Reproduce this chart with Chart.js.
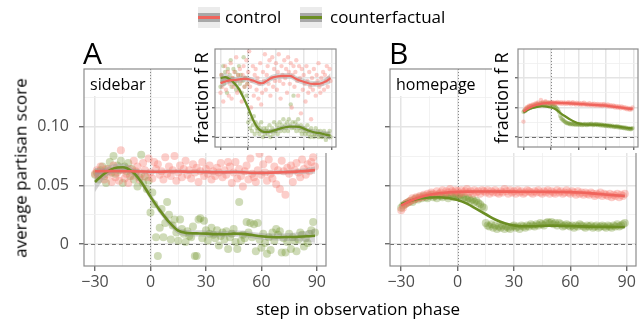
<!DOCTYPE html>
<html>
<head>
<meta charset="utf-8">
<script src="https://cdn.jsdelivr.net/npm/chart.js@4.4.0/dist/chart.umd.min.js"></script>
<style>
  body { margin: 0; width: 642px; height: 322px; position: relative; background: #fff; overflow: hidden;
         font-family: 'Open Sans', sans-serif; color: #000; }
  canvas, .abs { position: absolute; }
  .main { z-index: 1; }
  .strip { z-index: 2; background: #fff; }
  .inset { z-index: 3; background: #fff; }
  .txt { white-space: nowrap; z-index: 4; }
  .key { width: 22px; height: 21px; background: #ebebeb; z-index: 4; }
  .key .band { position: absolute; left: 0; right: 0; top: 6px; height: 9px; background: #a8a8a8; }
  .key .line { position: absolute; left: 0; right: 0; top: 9px; height: 3px; }
</style>
</head>
<body>

<!-- legend -->
<div class="abs key" style="left:198px;top:7px"><div class="band"></div><div class="line" style="background:#f0645c"></div></div>
<div class="abs txt" style="left:225px;top:8px;font-size:17px;line-height:17px">control</div>
<div class="abs key" style="left:300px;top:7px"><div class="band"></div><div class="line" style="background:#6b8e23"></div></div>
<div class="abs txt" style="left:330px;top:8px;font-size:17px;line-height:17px">counterfactual</div>

<!-- panel letters -->
<div class="abs txt" style="left:83px;top:38px;font-size:30px;line-height:30px">A</div>
<div class="abs txt" style="left:389px;top:38px;font-size:30px;line-height:30px">B</div>

<!-- axis titles -->
<div class="abs txt" style="left:20px;top:168px;font-size:17px;line-height:17px;transform:translate(-50%,-50%) rotate(-90deg)">average partisan score</div>
<div class="abs txt" style="left:358px;top:300px;font-size:17px;line-height:17px;transform:translateX(-50%)">step in observation phase</div>

<canvas id="mainA" class="main" width="330" height="262" style="left:0;top:60px"></canvas>
<canvas id="mainB" class="main" width="312" height="262" style="left:330px;top:60px"></canvas>

<div class="abs strip" style="left:85px;top:70px;width:64px;height:26px"></div>
<div class="abs txt" style="left:90px;top:76px;font-size:16px;line-height:16px">sidebar</div>
<div class="abs strip" style="left:391px;top:70px;width:64px;height:26px"></div>
<div class="abs txt" style="left:396px;top:76px;font-size:16px;line-height:16px">homepage</div>

<canvas id="insetA" class="inset" width="148" height="111" style="left:192px;top:42px"></canvas>
<canvas id="insetB" class="inset" width="150" height="111" style="left:492px;top:42px"></canvas>

<script>
// observation steps of the scatter points
const steps = [
  -30,-29,-28,-27,-26,-25,-24,-23,-22,-21,
  -20,-19,-18,-17,-16,-15,-14,-13,-12,-11,
  -10,-9,-8,-7,-6,-5,-4,-3,-2,-1,
  0,1,2,3,4,5,6,7,8,9,
  10,11,12,13,14,15,16,17,18,19,
  20,21,22,23,24,25,26,27,28,29,
  30,31,32,33,34,35,36,37,38,39,
  40,41,42,43,44,45,46,47,48,49,
  50,51,52,53,54,55,56,57,58,59,
  60,61,62,63,64,65,66,67,68,69,
  70,71,72,73,74,75,76,77,78,79,
  80,81,82,83,84,85,86,87,88,89
];
// steps where the smoothed fits are given
const fitSteps = [-30,-25,-20,-15,-10,-5,0,5,10,15,20,25,30,35,40,45,50,55,60,65,70,75,80,85,89];

// ---- panel A: sidebar ----
const controlA = [
  0.060,0.063,0.058,0.066,0.061,0.055,0.064,0.059,0.062,0.053,
  0.067,0.057,0.061,0.054,0.080,0.063,0.056,0.060,0.052,0.064,
  0.058,0.071,0.062,0.066,0.055,0.060,0.069,0.063,0.057,0.073,
  0.061,0.056,0.070,0.064,0.068,0.059,0.062,0.055,0.074,0.060,
  0.066,0.058,0.063,0.075,0.054,0.061,0.067,0.057,0.064,0.071,
  0.059,0.063,0.056,0.068,0.061,0.065,0.053,0.062,0.070,0.058,
  0.064,0.060,0.067,0.055,0.062,0.058,0.065,0.061,0.069,0.057,
  0.063,0.059,0.070,0.066,0.052,0.061,0.070,0.056,0.064,0.058,
  0.049,0.062,0.067,0.055,0.073,0.060,0.057,0.053,0.063,0.077,
  0.059,0.068,0.061,0.054,0.072,0.060,0.056,0.066,0.051,0.063,
  0.047,0.071,0.062,0.042,0.065,0.060,0.067,0.053,0.063,0.069,
  0.061,0.057,0.072,0.064,0.059,0.068,0.062,0.070,0.074,0.066
];
const counterA = [
  0.059,0.061,0.055,0.063,0.066,0.058,0.052,0.064,0.070,0.061,
  0.075,0.060,0.067,0.063,0.071,0.052,0.066,0.062,0.069,0.058,
  0.064,0.055,0.061,0.049,0.057,0.076,0.052,0.058,0.047,0.054,
  0.027,0.044,0.034,0.006,-0.010,0.014,0.030,0.006,0.018,0.036,
  0.025,0.004,0.016,0.021,0.010,0.003,0.021,0.013,0.009,0.002,
  0.011,0.007,0.006,0.015,-0.010,-0.010,0.021,0.022,0.005,0.020,
  0.012,0.003,0.009,0.014,0.008,0.005,0.012,-0.001,0.007,0.010,
  0.004,0.011,-0.004,0.006,0.009,0.013,0.002,-0.004,0.036,0.003,
  0.008,0.005,0.019,0.010,0.018,0.006,0.017,-0.006,0.018,0.004,
  -0.003,0.009,0.001,-0.008,0.006,-0.005,0.010,0.003,0.013,0.008,
  0.011,-0.007,0.005,-0.007,0.002,0.009,-0.004,0.006,0.003,-0.006,
  0.004,0.010,0.008,-0.002,0.005,0.001,0.009,0.012,0.019,0.010
];
const controlFitA = [0.0620,0.0622,0.0622,0.0621,0.0620,0.0619,0.0617,0.0617,0.0618,0.0618,0.0617,0.0616,0.0614,0.0612,0.0612,0.0614,0.0612,0.0608,0.0607,0.0609,0.0611,0.0613,0.0618,0.0624,0.0630];
const controlSeA = [0.0028,0.0022,0.0019,0.0018,0.0017,0.0017,0.0017,0.0017,0.0017,0.0017,0.0017,0.0017,0.0017,0.0017,0.0017,0.0017,0.0017,0.0017,0.0017,0.0017,0.0018,0.0019,0.0021,0.0024,0.0030];
const counterFitA = [0.0530,0.0600,0.0645,0.0655,0.0620,0.0530,0.0405,0.0290,0.0190,0.0115,0.0095,0.0092,0.0090,0.0086,0.0085,0.0090,0.0088,0.0078,0.0068,0.0062,0.0060,0.0061,0.0064,0.0068,0.0072];
const counterSeA = [0.0085,0.0045,0.0035,0.0032,0.0030,0.0030,0.0030,0.0030,0.0028,0.0027,0.0026,0.0026,0.0026,0.0026,0.0026,0.0026,0.0026,0.0027,0.0028,0.0029,0.0031,0.0034,0.0039,0.0047,0.0060];

// ---- panel B: homepage ----
const controlB = [
  0.029,0.031,0.034,0.035,0.036,0.037,0.039,0.038,0.040,0.039,
  0.041,0.040,0.042,0.041,0.043,0.042,0.044,0.043,0.042,0.045,
  0.043,0.044,0.046,0.043,0.045,0.044,0.047,0.045,0.044,0.046,
  0.045,0.043,0.046,0.044,0.045,0.047,0.044,0.045,0.043,0.046,
  0.044,0.045,0.043,0.046,0.045,0.044,0.046,0.043,0.045,0.044,
  0.046,0.044,0.043,0.045,0.044,0.047,0.045,0.043,0.046,0.044,
  0.045,0.043,0.046,0.044,0.045,0.043,0.044,0.046,0.045,0.044,
  0.043,0.045,0.044,0.046,0.044,0.043,0.045,0.044,0.046,0.043,
  0.045,0.044,0.043,0.046,0.044,0.045,0.043,0.044,0.046,0.044,
  0.043,0.045,0.044,0.042,0.045,0.043,0.044,0.042,0.044,0.043,
  0.042,0.044,0.043,0.041,0.043,0.042,0.044,0.041,0.043,0.042,
  0.041,0.043,0.040,0.042,0.041,0.043,0.040,0.042,0.041,0.043
];
const counterB = [
  0.031,0.033,0.034,0.035,0.036,0.037,0.036,0.038,0.039,0.038,
  0.040,0.039,0.041,0.040,0.039,0.041,0.042,0.040,0.041,0.039,
  0.042,0.041,0.040,0.042,0.041,0.039,0.042,0.041,0.040,0.042,
  0.041,0.040,0.042,0.039,0.040,0.038,0.039,0.037,0.038,0.036,
  0.037,0.035,0.034,0.032,0.031,0.018,0.016,0.015,0.017,0.014,
  0.016,0.013,0.015,0.014,0.016,0.013,0.015,0.014,0.013,0.015,
  0.016,0.014,0.015,0.013,0.016,0.015,0.014,0.016,0.015,0.017,
  0.016,0.015,0.017,0.016,0.018,0.017,0.016,0.018,0.019,0.018,
  0.019,0.017,0.018,0.016,0.018,0.017,0.015,0.016,0.017,0.016,
  0.015,0.016,0.014,0.016,0.015,0.017,0.016,0.015,0.014,0.016,
  0.015,0.016,0.014,0.015,0.016,0.014,0.015,0.016,0.015,0.014,
  0.016,0.015,0.014,0.016,0.015,0.017,0.015,0.016,0.017,0.018
];
const controlFitB = [0.0330,0.0370,0.0400,0.0420,0.0434,0.0441,0.0445,0.0447,0.0448,0.0448,0.0448,0.0447,0.0447,0.0446,0.0446,0.0446,0.0445,0.0444,0.0443,0.0440,0.0435,0.0428,0.0421,0.0415,0.0410];
const controlSeB = [0.0016,0.0010,0.0008,0.0007,0.0007,0.0006,0.0006,0.0006,0.0006,0.0006,0.0006,0.0006,0.0006,0.0006,0.0006,0.0006,0.0006,0.0006,0.0006,0.0006,0.0007,0.0007,0.0008,0.0010,0.0014];
const counterFitB = [0.0340,0.0370,0.0390,0.0398,0.0400,0.0393,0.0376,0.0345,0.0300,0.0255,0.0210,0.0178,0.0160,0.0153,0.0153,0.0156,0.0158,0.0157,0.0155,0.0152,0.0150,0.0149,0.0148,0.0147,0.0147];
const counterSeB = [0.0016,0.0010,0.0008,0.0007,0.0007,0.0007,0.0007,0.0007,0.0007,0.0007,0.0007,0.0006,0.0006,0.0006,0.0006,0.0006,0.0006,0.0006,0.0006,0.0006,0.0007,0.0007,0.0008,0.0010,0.0014];

// ---- inset A: fraction f_R, sidebar ----
const controlIA = [
  0.15,0.21,0.17,0.12,0.19,0.24,0.16,0.20,0.22,0.14,
  0.18,0.25,0.13,0.20,0.17,0.22,0.19,0.27,0.15,0.21,
  0.16,0.23,0.19,0.12,0.21,0.24,0.17,0.20,0.26,0.18,
  0.22,0.29,0.17,0.10,0.19,0.24,0.14,0.21,0.23,0.16,
  0.20,0.13,0.18,0.25,0.11,0.15,0.22,0.19,0.28,0.16,
  0.21,0.24,0.18,0.26,0.14,0.20,0.27,0.17,0.23,0.19,
  0.25,0.16,0.22,0.28,0.19,0.13,0.24,0.21,0.18,0.26,
  0.20,0.23,0.15,0.27,0.22,0.18,0.25,0.10,0.21,0.24,
  0.17,0.22,0.26,0.19,0.14,0.24,0.20,0.08,0.23,0.16,
  0.21,0.18,0.12,0.24,0.19,0.15,0.22,0.17,0.06,0.20,
  0.16,0.23,0.18,0.14,0.21,0.19,0.25,0.17,0.15,0.20,
  0.18,0.22,0.16,0.21,0.19,0.24,0.17,0.20,0.23,0.19
];
const counterIA = [
  0.17,0.21,0.19,0.24,0.18,0.22,0.20,0.15,0.23,0.19,
  0.21,0.26,0.17,0.20,0.23,0.18,0.22,0.16,0.19,0.21,
  0.24,0.18,0.21,0.15,0.19,0.27,0.17,0.20,0.14,0.18,
  0.05,0.08,0.03,0.06,0.02,0.04,0.07,0.01,0.05,0.03,
  0.02,0.04,0.01,0.03,0.05,0.02,0.00,0.03,0.01,0.02,
  0.03,0.01,0.02,0.04,0.00,0.02,0.03,0.01,0.05,0.02,
  0.02,0.04,0.01,0.03,0.05,0.02,0.04,0.03,0.06,0.02,
  0.04,0.03,0.05,0.02,0.06,0.04,0.11,0.03,0.05,0.14,
  0.03,0.05,0.02,0.04,0.06,0.03,0.02,0.04,0.01,0.03,
  0.02,0.03,0.01,0.02,0.04,0.01,0.02,0.00,0.03,0.01,
  0.02,0.00,0.01,0.03,0.01,0.02,0.00,0.01,0.02,0.00,
  0.01,0.00,0.02,0.01,-0.01,0.01,0.00,0.01,0.02,0.00
];
const controlFitIA = [0.182,0.188,0.192,0.193,0.195,0.197,0.196,0.191,0.185,0.182,0.190,0.200,0.204,0.206,0.207,0.207,0.200,0.192,0.187,0.182,0.180,0.180,0.183,0.190,0.199];
const controlSeIA = [0.018,0.013,0.011,0.010,0.010,0.010,0.010,0.010,0.010,0.010,0.010,0.010,0.010,0.010,0.010,0.010,0.010,0.010,0.010,0.010,0.010,0.010,0.011,0.013,0.018];
const counterFitIA = [0.199,0.203,0.196,0.182,0.162,0.132,0.098,0.060,0.032,0.019,0.017,0.019,0.024,0.029,0.033,0.035,0.035,0.034,0.029,0.022,0.017,0.014,0.011,0.007,0.005];
const counterSeIA = [0.016,0.012,0.010,0.010,0.010,0.010,0.010,0.010,0.009,0.008,0.008,0.008,0.008,0.008,0.008,0.008,0.008,0.008,0.008,0.008,0.008,0.009,0.010,0.012,0.016];

// ---- inset B: fraction f_R, homepage ----
const controlIB = [
  0.052,0.090,0.095,0.098,0.102,0.100,0.106,0.104,0.108,0.105,
  0.110,0.107,0.112,0.109,0.115,0.111,0.117,0.113,0.110,0.125,
  0.114,0.119,0.112,0.116,0.121,0.113,0.118,0.115,0.112,0.117,
  0.115,0.119,0.113,0.117,0.112,0.116,0.114,0.119,0.113,0.116,
  0.114,0.118,0.112,0.115,0.117,0.113,0.116,0.112,0.115,0.118,
  0.113,0.116,0.111,0.115,0.118,0.112,0.114,0.110,0.116,0.113,
  0.111,0.115,0.112,0.109,0.114,0.111,0.116,0.110,0.113,0.109,
  0.112,0.108,0.114,0.110,0.107,0.112,0.109,0.113,0.106,0.111,
  0.108,0.112,0.106,0.110,0.107,0.111,0.105,0.109,0.112,0.106,
  0.108,0.104,0.110,0.106,0.103,0.108,0.105,0.102,0.107,0.104,
  0.100,0.105,0.102,0.099,0.104,0.101,0.097,0.103,0.100,0.098,
  0.101,0.096,0.099,0.094,0.098,0.095,0.092,0.097,0.094,0.100
];
const counterIB = [
  0.085,0.090,0.088,0.094,0.096,0.099,0.101,0.098,0.104,0.102,
  0.106,0.103,0.108,0.105,0.110,0.107,0.112,0.109,0.106,0.114,
  0.110,0.115,0.108,0.112,0.117,0.109,0.113,0.111,0.116,0.110,
  0.112,0.108,0.110,0.105,0.107,0.102,0.098,0.095,0.090,0.084,
  0.072,0.065,0.060,0.058,0.055,0.052,0.050,0.048,0.046,0.047,
  0.045,0.043,0.046,0.044,0.042,0.045,0.043,0.041,0.044,0.042,
  0.043,0.041,0.044,0.042,0.040,0.043,0.041,0.044,0.042,0.040,
  0.042,0.044,0.041,0.043,0.045,0.042,0.040,0.043,0.041,0.044,
  0.042,0.040,0.043,0.041,0.039,0.042,0.040,0.038,0.041,0.039,
  0.037,0.040,0.038,0.036,0.039,0.037,0.035,0.038,0.036,0.034,
  0.036,0.034,0.037,0.033,0.035,0.032,0.034,0.031,0.033,0.030,
  0.032,0.029,0.031,0.028,0.030,0.027,0.029,0.026,0.028,0.030
];
const controlFitIB = [0.086,0.096,0.104,0.109,0.113,0.115,0.116,0.116,0.115,0.115,0.114,0.113,0.112,0.111,0.110,0.109,0.108,0.107,0.106,0.104,0.102,0.100,0.098,0.096,0.095];
const controlSeIB = [0.006,0.004,0.003,0.003,0.003,0.003,0.003,0.003,0.003,0.003,0.003,0.003,0.003,0.003,0.003,0.003,0.003,0.003,0.003,0.003,0.003,0.003,0.003,0.004,0.006];
const counterFitIB = [0.083,0.092,0.098,0.102,0.104,0.103,0.100,0.094,0.082,0.071,0.061,0.052,0.046,0.043,0.042,0.042,0.041,0.041,0.040,0.038,0.036,0.034,0.032,0.030,0.029];
const counterSeIB = [0.006,0.004,0.003,0.003,0.003,0.003,0.003,0.003,0.003,0.003,0.003,0.003,0.003,0.003,0.003,0.003,0.003,0.003,0.003,0.003,0.003,0.003,0.003,0.004,0.006];

// axes
const xTicks = [-30,-15,0,15,30,45,60,75,90];
const xTickLabels = ['\u221230','','0','','30','','60','','90'];
const yTicks = [0,0.025,0.05,0.075,0.1,0.125];
const yTickLabels = ['0','','0.05','','0.10',''];
const insetYTicks = [0,0.05,0.1,0.15,0.2,0.25];
const xRange = [-35.95, 94.95];
const yRange = [-0.0185, 0.149];
const insetYRange = [-0.034, 0.298];
const treatmentStep = 0;   // dotted vertical line
const baselineValue = 0;   // dashed horizontal line

const FONT = "'Open Sans', sans-serif";
const RED = '#f0645c';
const GREEN = '#6b8e23';
const RED_PT = 'rgba(248,118,109,0.36)';
const GREEN_PT = 'rgba(107,142,35,0.32)';
const RIBBON = 'rgba(153,153,153,0.4)';

function pts(ys) { return steps.map((x, i) => ({ x: x, y: ys[i] })); }
function fitLine(ys) { return fitSteps.map((x, i) => ({ x: x, y: ys[i] })); }
function band(ys, se, sign) { return fitSteps.map((x, i) => ({ x: x, y: ys[i] + sign * se[i] })); }

// zero line, treatment line and panel border
const panelDeco = {
  id: 'panelDeco',
  beforeDatasetsDraw(chart) {
    const { ctx, chartArea: a, scales: { x, y } } = chart;
    ctx.save();
    ctx.lineWidth = 1;
    ctx.strokeStyle = '#6e6e6e';
    ctx.setLineDash([4, 3]);
    const y0 = Math.round(y.getPixelForValue(baselineValue)) + 0.5;
    ctx.beginPath(); ctx.moveTo(a.left, y0); ctx.lineTo(a.right, y0); ctx.stroke();
    ctx.strokeStyle = '#888';
    ctx.setLineDash([1, 2]);
    const x0 = Math.round(x.getPixelForValue(treatmentStep)) + 0.5;
    ctx.beginPath(); ctx.moveTo(x0, a.top); ctx.lineTo(x0, a.bottom); ctx.stroke();
    ctx.restore();
  },
  afterDatasetsDraw(chart) {
    const { ctx, chartArea: a } = chart;
    ctx.save();
    ctx.strokeStyle = '#8c8c8c';
    ctx.lineWidth = 1.2;
    ctx.strokeRect(a.left, a.top, a.right - a.left, a.bottom - a.top);
    ctx.restore();
  }
};

function gridOpts(len) {
  return {
    color: c => c.index % 2 === 0 ? '#e4e4e4' : '#efefef',
    lineWidth: c => c.index % 2 === 0 ? 1.5 : 0.8,
    tickColor: c => c.index % 2 === 0 ? '#555' : 'rgba(0,0,0,0)',
    tickWidth: 1.2,
    tickLength: len,
    drawTicks: true
  };
}

function makeChart(id, s, o) {
  const small = o.inset;
  const r = small ? 2.2 : 4;
  const lw = small ? 2.2 : 2.6;
  const smooth = { showLine: true, pointRadius: 0, cubicInterpolationMode: 'monotone' };
  const datasets = [
    { data: pts(s.control), showLine: false, pointRadius: r, backgroundColor: RED_PT, borderWidth: 0, order: 3 },
    { data: pts(s.counter), showLine: false, pointRadius: r, backgroundColor: GREEN_PT, borderWidth: 0, order: 3 },
    Object.assign({ data: band(s.controlFit, s.controlSe, -1), borderWidth: 0, fill: false, order: 2 }, smooth),
    Object.assign({ data: band(s.controlFit, s.controlSe, 1), borderWidth: 0, fill: '-1', backgroundColor: RIBBON, order: 2 }, smooth),
    Object.assign({ data: band(s.counterFit, s.counterSe, -1), borderWidth: 0, fill: false, order: 2 }, smooth),
    Object.assign({ data: band(s.counterFit, s.counterSe, 1), borderWidth: 0, fill: '-1', backgroundColor: RIBBON, order: 2 }, smooth),
    Object.assign({ data: fitLine(s.controlFit), borderColor: RED, borderWidth: lw, fill: false, order: 1 }, smooth),
    Object.assign({ data: fitLine(s.counterFit), borderColor: GREEN, borderWidth: lw, fill: false, order: 1 }, smooth)
  ];
  const yT = small ? insetYTicks : yTicks;
  const yR = small ? insetYRange : yRange;
  return new Chart(document.getElementById(id), {
    type: 'line',
    data: { datasets: datasets },
    options: {
      responsive: false,
      animation: false,
      events: [],
      layout: { padding: { left: 0, top: o.top, right: o.right, bottom: 0 } },
      plugins: { legend: { display: false }, tooltip: { enabled: false } },
      scales: {
        x: {
          type: 'linear', min: xRange[0], max: xRange[1],
          afterBuildTicks: sc => { sc.ticks = xTicks.map(v => ({ value: v })); },
          afterFit: sc => { sc.height = o.xh; sc.paddingLeft = 0; sc.paddingRight = 0; },
          grid: gridOpts(small ? 3 : 5),
          border: { display: false },
          ticks: {
            autoSkip: false, maxRotation: 0, minRotation: 0, padding: 2,
            color: '#4d4d4d', font: { family: FONT, size: 16 },
            callback: (v, i) => o.xLabels ? xTickLabels[i] : ''
          }
        },
        y: {
          type: 'linear', min: yR[0], max: yR[1],
          afterBuildTicks: sc => { sc.ticks = yT.map(v => ({ value: v })); },
          afterFit: sc => { sc.width = o.yw; sc.paddingTop = 0; sc.paddingBottom = 0; },
          grid: gridOpts(small ? 3 : 5),
          border: { display: false },
          title: small ? { display: true, text: 'fraction f R', color: '#000', padding: 0, font: { family: FONT, size: 18 } } : { display: false },
          ticks: {
            autoSkip: false, padding: 10,
            color: '#4d4d4d', font: { family: FONT, size: 16 },
            callback: (v, i) => o.yLabels ? yTickLabels[i] : ''
          }
        }
      }
    },
    plugins: [panelDeco]
  });
}

makeChart('mainA',
  { control: controlA, counter: counterA, controlFit: controlFitA, controlSe: controlSeA, counterFit: counterFitA, counterSe: counterSeA },
  { top: 9, right: 2, xh: 56, yw: 84, xLabels: true, yLabels: true });
makeChart('mainB',
  { control: controlB, counter: counterB, controlFit: controlFitB, controlSe: controlSeB, counterFit: counterFitB, counterSe: counterSeB },
  { top: 9, right: 6, xh: 56, yw: 60, xLabels: true, yLabels: false });
makeChart('insetA',
  { control: controlIA, counter: counterIA, controlFit: controlFitIA, controlSe: controlSeIA, counterFit: counterFitIA, counterSe: counterSeIA },
  { inset: true, top: 7, right: 3, xh: 6, yw: 23, xLabels: false, yLabels: false });
makeChart('insetB',
  { control: controlIB, counter: counterIB, controlFit: controlFitIB, controlSe: controlSeIB, counterFit: counterFitIB, counterSe: counterSeIB },
  { inset: true, top: 7, right: 2, xh: 6, yw: 26, xLabels: false, yLabels: false });
</script>
</body>
</html>
